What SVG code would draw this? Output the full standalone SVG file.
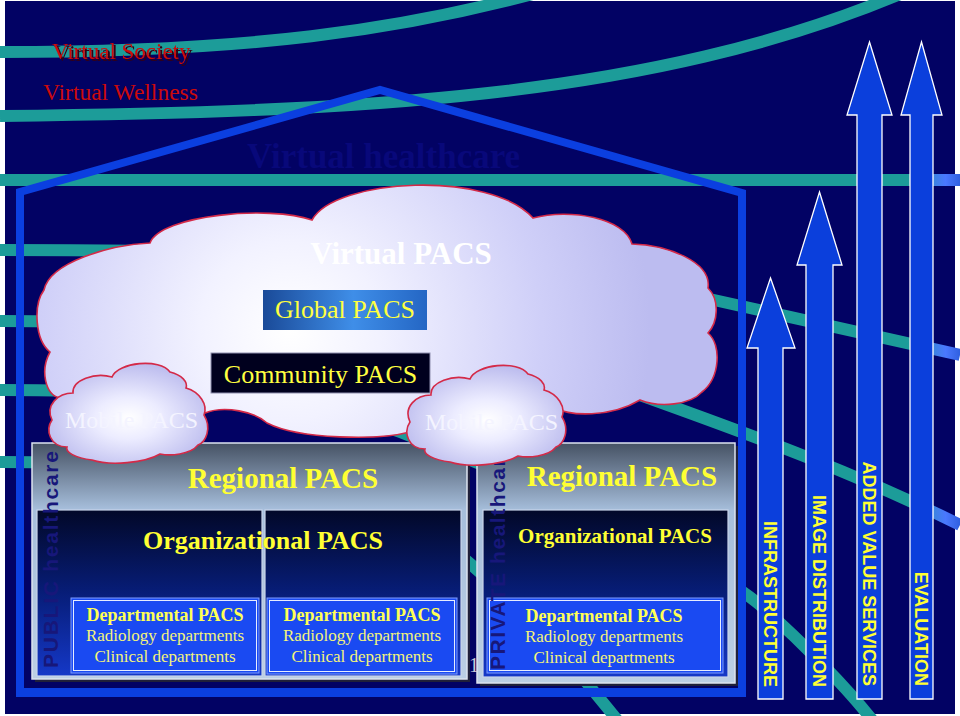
<svg xmlns="http://www.w3.org/2000/svg" width="960" height="716" viewBox="0 0 960 716">
<defs>
  <linearGradient id="bandGrad" gradientUnits="userSpaceOnUse" x1="0" y1="0" x2="960" y2="0">
    <stop offset="0" stop-color="#1c9c99"/>
    <stop offset="0.945" stop-color="#1c9c99"/>
    <stop offset="0.985" stop-color="#4a78ff"/>
    <stop offset="1" stop-color="#3060e0"/>
  </linearGradient>
  <radialGradient id="cloudFill" gradientUnits="userSpaceOnUse" cx="290" cy="330" r="360">
    <stop offset="0" stop-color="#ffffff"/>
    <stop offset="0.25" stop-color="#f2f2ff"/>
    <stop offset="0.7" stop-color="#cfcff8"/>
    <stop offset="1" stop-color="#bcbcf0"/>
  </radialGradient>
  <radialGradient id="mobFill" cx="0.5" cy="0.55" r="0.6">
    <stop offset="0" stop-color="#ffffff"/>
    <stop offset="0.35" stop-color="#ececff"/>
    <stop offset="1" stop-color="#b6b6ec"/>
  </radialGradient>
  <linearGradient id="globalFill" x1="0" y1="0" x2="1" y2="0">
    <stop offset="0" stop-color="#1a4a98"/>
    <stop offset="0.55" stop-color="#3f8ee8"/>
    <stop offset="1" stop-color="#2466c4"/>
  </linearGradient>
  <linearGradient id="outerFill" x1="0" y1="0" x2="0" y2="1">
    <stop offset="0" stop-color="#465264"/>
    <stop offset="0.28" stop-color="#a6bedb"/>
    <stop offset="1" stop-color="#bccfe4"/>
  </linearGradient>
  <linearGradient id="innerFill" x1="0" y1="0" x2="0" y2="1">
    <stop offset="0" stop-color="#020828"/>
    <stop offset="0.5" stop-color="#071d78"/>
    <stop offset="1" stop-color="#1538c8"/>
  </linearGradient>
  <filter id="textShadow" x="-5%" y="-20%" width="115%" height="150%">
    <feDropShadow dx="2" dy="2" stdDeviation="0.4" flood-color="#300018" flood-opacity="1"/>
  </filter>
  <path id="mob" d="M52,420 C45,405 58,393 73,393 C72,380 95,372 112,377 C118,362 160,358 170,372 C182,375 188,382 186,388 C200,392 208,405 204,415 C212,428 206,442 198,445 C190,455 170,456 160,454 C145,463 110,466 92,460 C75,458 65,452 67,447 C50,447 45,430 52,420 Z"/>
  <style>
    .band{fill:none;stroke:url(#bandGrad);stroke-width:12}
    .house{fill:none;stroke:#0b3fe0;stroke-width:8}
    .cloud{stroke:#d42a48;stroke-width:1.6}
    .serif{font-family:"Liberation Serif","Times New Roman",serif}
    .yel{fill:#ffff40}
    .arrow{fill:#0b3fdc;stroke:#ffffff;stroke-width:1.3}
    .alabel{font-family:"Liberation Sans",Arial,sans-serif;font-weight:bold;font-size:18px;fill:#ffff33}
    .vlabel{font-family:"Liberation Sans",Arial,sans-serif;font-weight:bold;font-size:21px;fill:#17177a}
    .outer{fill:url(#outerFill);stroke:#dde4f0;stroke-width:1.5}
    .inner{fill:url(#innerFill);stroke:#c8d4ea;stroke-width:1.2}
    .dep{fill:#1a4af2;stroke:#7e9cff;stroke-width:1}
    .depin{fill:none;stroke:#e6ecff;stroke-width:1}
    .shadow{fill:#20203a}
    .reg{font-family:"Liberation Serif","Times New Roman",serif;font-weight:bold;font-size:29px;fill:#ffff33;text-anchor:middle}
    .org{font-family:"Liberation Serif","Times New Roman",serif;font-weight:bold;fill:#ffff33;text-anchor:middle}
    .dh{font-family:"Liberation Serif","Times New Roman",serif;font-weight:bold;font-size:18px;fill:#ffff55;text-anchor:middle}
    .dt{font-family:"Liberation Serif","Times New Roman",serif;font-size:17px;fill:#f4f47a;text-anchor:middle}
    .mobtext{font-family:"Liberation Serif","Times New Roman",serif;font-size:24px;fill:#f4f4ff}
  </style>
</defs>

<rect x="0" y="0" width="960" height="716" fill="#ffffff"/>
<rect id="background" x="5" y="1" width="950" height="713" fill="#020264"/>

<g id="bands">
  <path class="band" d="M0,52 C250,52 400,30 540,-8"/>
  <path class="band" d="M0,116 C350,112 650,100 905,-8"/>
  <path class="band" d="M0,180 L960,180"/>
  <path class="band" d="M0,250 C300,250 500,255 705,298 L960,355"/>
  <path class="band" d="M0,321 C300,321 500,345 640,395 C760,438 860,475 960,525"/>
  <path class="band" d="M0,390 C200,390 330,405 400,432 C560,495 700,555 760,605 C800,640 850,690 880,730"/>
  <path class="band" d="M0,462 C150,462 300,470 400,512 C450,540 540,620 625,730"/>
</g>

<g id="house">
  <path class="house" d="M20,697 L20,192 L380,90 L742,193 L742,697"/>
  <rect x="16" y="688" width="730" height="9" fill="#0b3fe0"/>
</g>

<g id="virtual-society">
  <text class="serif" x="52" y="59" font-size="23" fill="#cc0a0a" filter="url(#textShadow)">Virtual Society</text>
</g>
<g id="virtual-wellness">
  <text class="serif" x="43" y="100" font-size="23.5" fill="#cc0a0a">Virtual Wellness</text>
</g>
<g id="virtual-healthcare">
  <text class="serif" x="247" y="168" font-size="35" font-weight="bold" fill="#08087a">Virtual healthcare</text>
</g>

<g id="virtual-pacs">
  <path class="cloud" fill="url(#cloudFill)" d="M60,398 C45,395 40,370 50,352 C35,340 33,305 44,290 C50,262 110,245 150,243 C160,215 270,205 312,220 C335,178 490,170 533,218 C570,208 625,218 632,244 C668,245 712,262 708,288 C720,300 718,322 708,333 C722,345 720,378 702,392 C690,405 660,408 640,400 C610,418 570,416 555,408 L410,432 C380,440 300,440 267,423 C255,412 225,405 205,413 Z"/>
  <text class="serif" x="401" y="264" font-size="31" font-weight="bold" fill="#ffffff" text-anchor="middle">Virtual PACS</text>
</g>

<g id="global-pacs">
  <rect x="263" y="290" width="164" height="40" fill="url(#globalFill)"/>
  <text class="serif yel" x="345" y="318" font-size="26" text-anchor="middle">Global PACS</text>
</g>

<g id="community-pacs">
  <rect x="211" y="353" width="219" height="40" fill="#00001e" stroke="#9090b0" stroke-width="1"/>
  <text class="serif yel" x="320.5" y="383" font-size="26" text-anchor="middle">Community PACS</text>
</g>

<text class="serif" x="469" y="672" font-size="20" fill="#c8c8d8">1</text>

<g id="public-healthcare">
  <rect class="shadow" x="35" y="446" width="435" height="236"/>
  <rect class="outer" x="32" y="443" width="435" height="236"/>
  <text class="reg" x="283" y="488">Regional PACS</text>
  <rect class="inner" x="37" y="510" width="225" height="166"/>
  <rect class="inner" x="265" y="510" width="196" height="166"/>
  <text class="org" x="263" y="549" font-size="26">Organizational PACS</text>
  <g id="public-dept-1">
    <rect class="dep" x="71" y="598" width="188" height="75"/>
    <rect class="depin" x="73.5" y="600.5" width="183" height="70"/>
    <text class="dh" x="165" y="621">Departmental PACS</text>
    <text class="dt" x="165" y="641">Radiology departments</text>
    <text class="dt" x="165" y="662">Clinical departments</text>
  </g>
  <g id="public-dept-2">
    <rect class="dep" x="267" y="598" width="190" height="76"/>
    <rect class="depin" x="269.5" y="600.5" width="185" height="71"/>
    <text class="dh" x="362" y="621">Departmental PACS</text>
    <text class="dt" x="362" y="641">Radiology departments</text>
    <text class="dt" x="362" y="662">Clinical departments</text>
  </g>
  <text class="vlabel" transform="translate(58,668) rotate(-90)" textLength="217" lengthAdjust="spacing">PUBLIC healthcare</text>
</g>

<g id="private-healthcare">
  <rect class="shadow" x="480" y="446" width="258" height="240"/>
  <rect class="outer" x="477" y="443" width="258" height="240"/>
  <text class="reg" x="622" y="486">Regional PACS</text>
  <rect class="inner" x="483" y="510" width="245" height="167"/>
  <text class="org" x="615" y="543" font-size="21">Organizational PACS</text>
  <g id="private-dept">
    <rect class="dep" x="487" y="598" width="236" height="75"/>
    <rect class="depin" x="489.5" y="600.5" width="231" height="70"/>
    <text class="dh" x="604" y="622">Departmental PACS</text>
    <text class="dt" x="604" y="642">Radiology departments</text>
    <text class="dt" x="604" y="663">Clinical departments</text>
  </g>
  <text class="vlabel" transform="translate(505,670) rotate(-90)" textLength="225" lengthAdjust="spacing">PRIVATE healthcare</text>
</g>

<g id="mobile-pacs-1">
  <use href="#mob" class="cloud" fill="url(#mobFill)"/>
  <text class="mobtext" x="65" y="428">Mobile PACS</text>
</g>
<g id="mobile-pacs-2">
  <use href="#mob" class="cloud" fill="url(#mobFill)" transform="translate(358,2)"/>
  <text class="mobtext" x="425" y="430">Mobile PACS</text>
</g>

<g id="infrastructure">
  <polygon class="arrow" points="770.5,278 795,348 783,348 783,699 758,699 758,348 747,348"/>
  <text class="alabel" transform="translate(764,687) rotate(90)" text-anchor="end">INFRASTRUCTURE</text>
</g>
<g id="image-distribution">
  <polygon class="arrow" points="819.5,192 842,265 833,265 833,699 806,699 806,265 797,265"/>
  <text class="alabel" transform="translate(813,687) rotate(90)" text-anchor="end">IMAGE DISTRIBUTION</text>
</g>
<g id="added-value-services">
  <polygon class="arrow" points="869.5,42 892,115 882,115 882,699 857,699 857,115 847,115"/>
  <text class="alabel" transform="translate(863,686) rotate(90)" text-anchor="end">ADDED VALUE SERVICES</text>
</g>
<g id="evaluation">
  <polygon class="arrow" points="921.5,42 942,115 933,115 933,699 910,699 910,115 901,115"/>
  <text class="alabel" transform="translate(915,686) rotate(90)" text-anchor="end">EVALUATION</text>
</g>
</svg>
